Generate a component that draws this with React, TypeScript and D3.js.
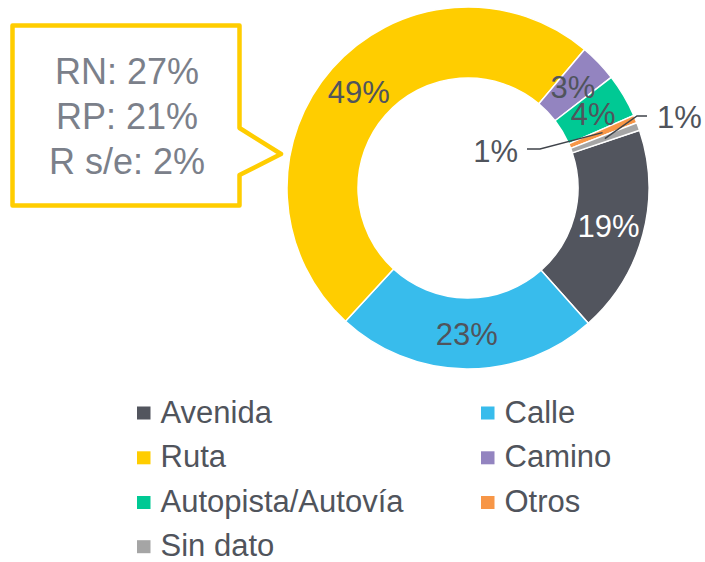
import React from "react";
import * as d3 from "d3";

const categories = ["Avenida", "Calle", "Ruta", "Camino", "Autopista/Autovía", "Otros", "Sin dato"];
const values = [18.6, 23.4, 49.3, 3.4, 3.9, 0.7, 0.7];
const colors = ["#52555e", "#38bcec", "#ffcd00", "#9384c0", "#00c994", "#f79647", "#a5a5a5"];
const calloutLines = ["RN: 27%", "RP: 21%", "R s/e: 2%"];

const W = 705;
const H = 562;
const cx = 468;
const cy = 188;
const outerR = 181;
const innerR = 110;
const startDeg = 71.4;
const FONT = "'Liberation Sans', Arial, Helvetica, sans-serif";
const TEXT = "#50545c";

export default function App() {
  const total = d3.sum(values);
  const pie = d3
    .pie<number>()
    .sort(null)
    .value((d) => d)
    .startAngle((startDeg * Math.PI) / 180)
    .endAngle((startDeg * Math.PI) / 180 + 2 * Math.PI);
  const arcs = pie(values);
  const arcGen = d3.arc<d3.PieArcDatum<number>>().innerRadius(innerR).outerRadius(outerR);
  const labelArc = d3
    .arc<d3.PieArcDatum<number>>()
    .innerRadius((innerR + outerR) / 2)
    .outerRadius((innerR + outerR) / 2);

  const pct = (v: number) => `${Math.round((v / total) * 100)}%`;

  // leader label placement for the tiny slices (Otros -> left, Sin dato -> right)
  const leaders: Record<number, { elbow: [number, number]; end: [number, number]; text: [number, number]; anchor: string }> = {
    5: { elbow: [540 - cx, 149 - cy], end: [527 - cx, 149 - cy], text: [518 - cx, 162 - cy], anchor: "end" },
    6: { elbow: [637 - cx, 116 - cy], end: [647 - cx, 116 - cy], text: [657 - cx, 128 - cy], anchor: "start" },
  };

  const legendCols = [137, 481];
  const legendRows = [422.5, 467.3, 512, 556.2];

  return (
    <svg width={W} height={H} style={{ position: "absolute", left: 0, top: 0, background: "#fff" }} fontFamily={FONT}>
      {/* Callout */}
      <path
        d="M12.5,25.5 L239.5,25.5 L239.5,128 L281,154 L239.5,175 L239.5,205.5 L12.5,205.5 Z"
        fill="#fff"
        stroke="#ffcd00"
        strokeWidth={4.5}
        strokeLinejoin="round"
      />
      {calloutLines.map((t, i) => (
        <text key={t} x={127} y={84 + i * 45} textAnchor="middle" fontSize={36} fill="#7b808a">
          {t}
        </text>
      ))}

      {/* Donut */}
      <g transform={`translate(${cx},${cy})`}>
        {arcs.map((a, i) => (
          <path key={categories[i]} d={arcGen(a) || ""} fill={colors[i]} stroke="#fff" strokeWidth={1.5} />
        ))}
        {arcs.map((a, i) => {
          const [x, y] = labelArc.centroid(a);
          if (leaders[i]) {
            const L = leaders[i];
            return (
              <g key={"l" + i}>
                <polyline
                  points={`${x},${y} ${L.elbow[0]},${L.elbow[1]} ${L.end[0]},${L.end[1]}`}
                  fill="none"
                  stroke="#3f434a"
                  strokeWidth={1.5}
                />
                <text x={L.text[0]} y={L.text[1]} textAnchor={L.anchor} fontSize={31} fill={TEXT}>
                  {pct(values[i])}
                </text>
              </g>
            );
          }
          return (
            <text
              key={"t" + i}
              x={x}
              y={y}
              dy="0.36em"
              textAnchor="middle"
              fontSize={31}
              fill={i === 0 ? "#ffffff" : TEXT}
            >
              {pct(values[i])}
            </text>
          );
        })}
      </g>

      {/* Legend */}
      {categories.map((c, i) => {
        const col = i % 2;
        const row = Math.floor(i / 2);
        const x = legendCols[col];
        const y = legendRows[row];
        return (
          <g key={"lg" + c}>
            <rect x={x} y={y - 16} width={13.5} height={13} fill={colors[i]} />
            <text x={x + 23.5} y={y} fontSize={31} fill={TEXT}>
              {c}
            </text>
          </g>
        );
      })}
    </svg>
  );
}
